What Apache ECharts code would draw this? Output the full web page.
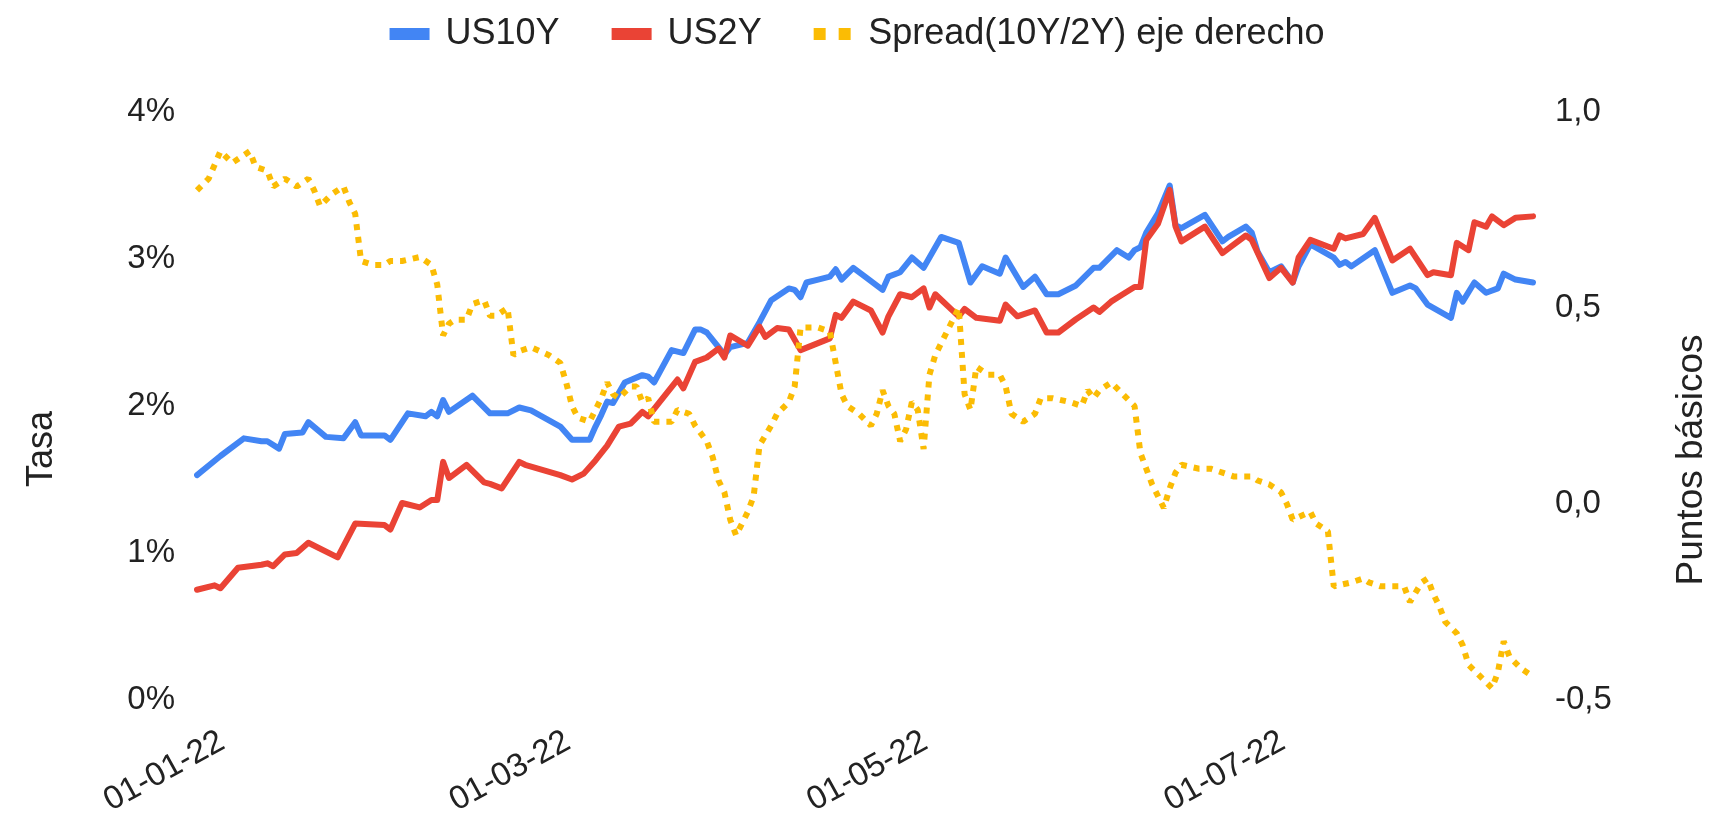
<!DOCTYPE html>
<html>
<head>
<meta charset="utf-8">
<script src="https://cdn.jsdelivr.net/npm/echarts@6/dist/echarts.min.js"></script>
<style>
  html, body { margin: 0; padding: 0; background: #ffffff; }
  #chart { width: 1714px; height: 817px; }
</style>
</head>
<body>
<div id="chart"></div>
<script>
// ---- axis domain & tick labels ----
const axisStart = [2021, 12, 31];
const axisEnd = [2022, 8, 16];
const tickLabels = ['01-01-22', '01-03-22', '01-05-22', '01-07-22'];

// ---- US10Y (left axis, %) ----
const us10yDates = ['31-12-21','04-01-22','08-01-22','11-01-22','12-01-22','14-01-22','15-01-22','18-01-22','19-01-22','22-01-22',
  '25-01-22','27-01-22','28-01-22','01-02-22','02-02-22','05-02-22','08-02-22','09-02-22','10-02-22','11-02-22',
  '12-02-22','16-02-22','19-02-22','22-02-22','24-02-22','26-02-22','03-03-22','05-03-22','08-03-22','09-03-22',
  '10-03-22','11-03-22','12-03-22','14-03-22','17-03-22','18-03-22','19-03-22','22-03-22','24-03-22','26-03-22',
  '27-03-22','28-03-22','30-03-22','31-03-22','01-04-22','04-04-22','06-04-22','08-04-22','11-04-22','12-04-22',
  '13-04-22','14-04-22','16-04-22','18-04-22','19-04-22','20-04-22','22-04-22','24-04-22','27-04-22','28-04-22',
  '30-04-22','02-05-22','04-05-22','07-05-22','10-05-22','12-05-22','14-05-22','17-05-22','18-05-22','21-05-22',
  '23-05-22','25-05-22','27-05-22','30-05-22','02-06-22','03-06-22','06-06-22','08-06-22','09-06-22','10-06-22',
  '11-06-22','13-06-22','15-06-22','16-06-22','17-06-22','21-06-22','24-06-22','25-06-22','28-06-22','29-06-22',
  '30-06-22','02-07-22','04-07-22','06-07-22','07-07-22','09-07-22','13-07-22','14-07-22','15-07-22','16-07-22',
  '20-07-22','23-07-22','26-07-22','27-07-22','29-07-22','02-08-22','03-08-22','04-08-22','06-08-22','08-08-22',
  '10-08-22','11-08-22','13-08-22','16-08-22'];
const us10y = [1.53,1.66,1.78,1.76,1.76,1.71,1.81,1.82,1.89,1.79,
  1.78,1.89,1.80,1.80,1.77,1.95,1.93,1.96,1.93,2.04,
  1.96,2.07,1.95,1.95,1.99,1.97,1.86,1.77,1.77,1.86,
  1.94,2.03,2.02,2.16,2.21,2.20,2.16,2.38,2.36,2.52,
  2.52,2.50,2.40,2.35,2.40,2.43,2.57,2.72,2.80,2.79,
  2.74,2.84,2.86,2.88,2.93,2.86,2.94,2.88,2.79,2.88,
  2.91,3.01,2.94,3.15,3.11,2.84,2.95,2.90,3.01,2.81,
  2.88,2.76,2.76,2.82,2.94,2.94,3.06,3.01,3.06,3.08,
  3.18,3.31,3.50,3.23,3.21,3.30,3.12,3.15,3.22,3.18,
  3.05,2.91,2.95,2.84,2.95,3.10,3.01,2.96,2.98,2.95,
  3.06,2.77,2.82,2.80,2.69,2.60,2.77,2.71,2.84,2.77,
  2.80,2.90,2.86,2.84];

// ---- US2Y (left axis, %) ----
const us2yDates = ['31-12-21','03-01-22','04-01-22','07-01-22','09-01-22','11-01-22','12-01-22','13-01-22','15-01-22','17-01-22',
  '19-01-22','24-01-22','27-01-22','01-02-22','02-02-22','04-02-22','07-02-22','09-02-22','10-02-22','11-02-22',
  '12-02-22','15-02-22','18-02-22','19-02-22','21-02-22','24-02-22','25-02-22','03-03-22','05-03-22','07-03-22',
  '09-03-22','11-03-22','13-03-22','15-03-22','17-03-22','18-03-22','23-03-22','24-03-22','26-03-22','28-03-22',
  '30-03-22','31-03-22','01-04-22','04-04-22','06-04-22','07-04-22','09-04-22','11-04-22','13-04-22','18-04-22',
  '19-04-22','20-04-22','22-04-22','25-04-22','27-04-22','28-04-22','30-04-22','02-05-22','04-05-22','05-05-22',
  '06-05-22','10-05-22','11-05-22','13-05-22','17-05-22','18-05-22','20-05-22','23-05-22','25-05-22','27-05-22',
  '30-05-22','02-06-22','03-06-22','05-06-22','07-06-22','09-06-22','10-06-22','11-06-22','13-06-22','15-06-22',
  '16-06-22','17-06-22','21-06-22','24-06-22','25-06-22','28-06-22','29-06-22','02-07-22','04-07-22','06-07-22',
  '07-07-22','09-07-22','13-07-22','14-07-22','15-07-22','18-07-22','20-07-22','23-07-22','26-07-22','29-07-22',
  '30-07-22','02-08-22','03-08-22','05-08-22','06-08-22','08-08-22','09-08-22','11-08-22','13-08-22','16-08-22'];
const us2y = [0.75,0.78,0.76,0.90,0.91,0.92,0.93,0.91,0.99,1.00,
  1.07,0.97,1.20,1.19,1.16,1.34,1.31,1.36,1.36,1.62,
  1.51,1.60,1.48,1.47,1.44,1.62,1.60,1.53,1.50,1.54,
  1.63,1.73,1.86,1.88,1.96,1.93,2.18,2.12,2.30,2.33,
  2.39,2.33,2.48,2.41,2.54,2.47,2.53,2.52,2.38,2.46,
  2.62,2.60,2.71,2.65,2.50,2.61,2.76,2.74,2.80,2.67,
  2.76,2.61,2.66,2.60,2.58,2.69,2.61,2.65,2.50,2.50,
  2.59,2.67,2.64,2.71,2.76,2.81,2.81,3.13,3.24,3.47,
  3.22,3.12,3.22,3.04,3.07,3.16,3.13,2.87,2.94,2.84,
  3.01,3.13,3.07,3.16,3.14,3.17,3.28,2.99,3.07,2.89,
  2.91,2.89,3.11,3.06,3.25,3.22,3.29,3.23,3.28,3.29];

// ---- Spread 10Y/2Y (right axis) ----
const spreadDates = ['31-12-21','02-01-22','04-01-22','06-01-22','07-01-22','09-01-22','10-01-22','12-01-22','13-01-22','15-01-22',
  '17-01-22','19-01-22','20-01-22','21-01-22','23-01-22','25-01-22','26-01-22','27-01-22','28-01-22','30-01-22',
  '01-02-22','02-02-22','04-02-22','07-02-22','09-02-22','10-02-22','11-02-22','12-02-22','13-02-22','15-02-22',
  '16-02-22','18-02-22','19-02-22','20-02-22','22-02-22','23-02-22','24-02-22','26-02-22','01-03-22','03-03-22',
  '04-03-22','05-03-22','06-03-22','08-03-22','09-03-22','10-03-22','11-03-22','12-03-22','13-03-22','15-03-22',
  '16-03-22','17-03-22','18-03-22','19-03-22','22-03-22','23-03-22','25-03-22','26-03-22','28-03-22','29-03-22',
  '30-03-22','31-03-22','01-04-22','02-04-22','03-04-22','04-04-22','05-04-22','06-04-22','08-04-22','09-04-22',
  '11-04-22','12-04-22','13-04-22','16-04-22','18-04-22','19-04-22','20-04-22','21-04-22','23-04-22','25-04-22',
  '26-04-22','27-04-22','28-04-22','29-04-22','30-04-22','01-05-22','02-05-22','03-05-22','04-05-22','05-05-22',
  '06-05-22','07-05-22','08-05-22','09-05-22','10-05-22','11-05-22','12-05-22','13-05-22','15-05-22','17-05-22',
  '18-05-22','19-05-22','21-05-22','23-05-22','24-05-22','26-05-22','29-05-22','31-05-22','01-06-22','02-06-22',
  '03-06-22','05-06-22','07-06-22','09-06-22','10-06-22','11-06-22','12-06-22','13-06-22','14-06-22','15-06-22',
  '16-06-22','17-06-22','20-06-22','22-06-22','24-06-22','26-06-22','29-06-22','30-06-22','02-07-22','04-07-22',
  '05-07-22','06-07-22','09-07-22','10-07-22','12-07-22','13-07-22','16-07-22','18-07-22','19-07-22','21-07-22',
  '23-07-22','25-07-22','26-07-22','28-07-22','29-07-22','30-07-22','31-07-22','01-08-22','03-08-22','04-08-22',
  '05-08-22','07-08-22','09-08-22','10-08-22','11-08-22','12-08-22','14-08-22','16-08-22'];
const spread = [0.80,0.83,0.90,0.87,0.88,0.90,0.86,0.85,0.81,0.83,
  0.81,0.83,0.80,0.76,0.79,0.81,0.77,0.74,0.62,0.61,
  0.61,0.62,0.62,0.63,0.61,0.56,0.43,0.46,0.47,0.47,
  0.51,0.52,0.48,0.48,0.50,0.38,0.39,0.40,0.38,0.36,
  0.31,0.25,0.22,0.21,0.24,0.27,0.31,0.28,0.27,0.30,
  0.30,0.26,0.27,0.21,0.21,0.24,0.23,0.20,0.16,0.12,
  0.06,0.03,-0.04,-0.08,-0.05,-0.02,0.02,0.15,0.20,0.23,
  0.26,0.30,0.45,0.45,0.44,0.36,0.28,0.25,0.23,0.20,
  0.23,0.29,0.25,0.23,0.16,0.19,0.26,0.24,0.14,0.33,
  0.38,0.41,0.44,0.47,0.50,0.28,0.24,0.35,0.33,0.33,
  0.30,0.23,0.21,0.23,0.27,0.27,0.26,0.25,0.29,0.27,
  0.29,0.31,0.28,0.25,0.13,0.09,0.05,0.02,-0.01,0.04,
  0.08,0.10,0.09,0.09,0.08,0.07,0.07,0.06,0.05,0.03,
  0.00,-0.04,-0.02,-0.05,-0.07,-0.21,-0.20,-0.19,-0.20,-0.21,
  -0.21,-0.21,-0.25,-0.20,-0.19,-0.23,-0.26,-0.30,-0.33,-0.36,
  -0.41,-0.44,-0.47,-0.43,-0.35,-0.39,-0.42,-0.44];

// ---- build category axis (every calendar day, dd-mm-yy) ----
function pad(n) { return (n < 10 ? '0' : '') + n; }
const categories = [];
for (let t = Date.UTC(axisStart[0], axisStart[1] - 1, axisStart[2]);
     t <= Date.UTC(axisEnd[0], axisEnd[1] - 1, axisEnd[2]); t += 86400000) {
  const d = new Date(t);
  categories.push(pad(d.getUTCDate()) + '-' + pad(d.getUTCMonth() + 1) + '-' + String(d.getUTCFullYear()).slice(2));
}
function alignToAxis(dates, values) {
  const m = {};
  dates.forEach((d, i) => { m[d] = values[i]; });
  return categories.map(c => (c in m ? m[c] : null));
}

const FONT = "'Liberation Sans', Arial, Helvetica, sans-serif";
const TXT = '#222222';
const C10 = '#4285F4', C2 = '#EA4335', CS = '#FBBC04';

const chart = echarts.init(document.getElementById('chart'), null, { renderer: 'canvas' });
chart.setOption({
  animation: false,
  backgroundColor: '#ffffff',
  textStyle: { fontFamily: FONT },
  legend: {
    top: 11,
    left: 'center',
    itemWidth: 40,
    itemHeight: 12,
    itemGap: 52,
    textStyle: { fontSize: 36, color: TXT, fontFamily: FONT, padding: [0, 0, 0, 11] },
    data: [
      { name: 'US10Y', icon: 'rect' },
      { name: 'US2Y', icon: 'rect' },
      { name: 'Spread(10Y/2Y) eje derecho', icon: 'path://M0,0h12v12h-12z M25,0h12v12h-12z' }
    ]
  },
  grid: { left: 197, right: 181, top: 112, bottom: 117, containLabel: false, outerBoundsMode: 'none' },
  xAxis: {
    type: 'category',
    data: categories,
    boundaryGap: false,
    axisLine: { show: false },
    axisTick: { show: false },
    splitLine: { show: false },
    axisLabel: {
      interval: (i, v) => tickLabels.includes(v),
      rotate: 29,
      margin: 50,
      padding: [0, -22, 0, 0],
      fontSize: 33,
      color: TXT,
      fontFamily: FONT
    }
  },
  yAxis: [
    {
      type: 'value', position: 'left', min: 0, max: 4, interval: 1,
      axisLine: { show: false }, axisTick: { show: false }, splitLine: { show: false },
      axisLabel: { formatter: '{value}%', margin: 22, fontSize: 33, color: TXT, fontFamily: FONT },
      name: 'Tasa', nameLocation: 'middle', nameRotate: 90, nameGap: 137,
      nameTextStyle: { fontSize: 36, color: TXT, fontFamily: FONT, padding: [0, 86, 0, 0] }
    },
    {
      type: 'value', position: 'right', min: -0.5, max: 1, interval: 0.5,
      axisLine: { show: false }, axisTick: { show: false }, splitLine: { show: false },
      axisLabel: { formatter: v => v.toFixed(1).replace('.', ','), margin: 22, fontSize: 33, color: TXT, fontFamily: FONT },
      name: 'Puntos básicos', nameLocation: 'middle', nameRotate: 90, nameGap: 140,
      nameTextStyle: { fontSize: 37, color: TXT, fontFamily: FONT, padding: [0, 108, 0, 0] }
    }
  ],
  series: [
    {
      name: 'US10Y', type: 'line', yAxisIndex: 0, data: alignToAxis(us10yDates, us10y),
      connectNulls: true, symbol: 'none', color: C10,
      itemStyle: { color: C10, borderWidth: 0 },
      lineStyle: { color: C10, width: 6, join: 'round', cap: 'round' }
    },
    {
      name: 'US2Y', type: 'line', yAxisIndex: 0, data: alignToAxis(us2yDates, us2y),
      connectNulls: true, symbol: 'none', color: C2,
      itemStyle: { color: C2, borderWidth: 0 },
      lineStyle: { color: C2, width: 6, join: 'round', cap: 'round' }
    },
    {
      name: 'Spread(10Y/2Y) eje derecho', type: 'line', yAxisIndex: 1, data: alignToAxis(spreadDates, spread),
      connectNulls: true, symbol: 'none', color: CS,
      itemStyle: { color: CS, borderWidth: 0 },
      lineStyle: { color: CS, width: 6, type: [6, 7], cap: 'butt' }
    }
  ]
});
</script>
</body>
</html>
